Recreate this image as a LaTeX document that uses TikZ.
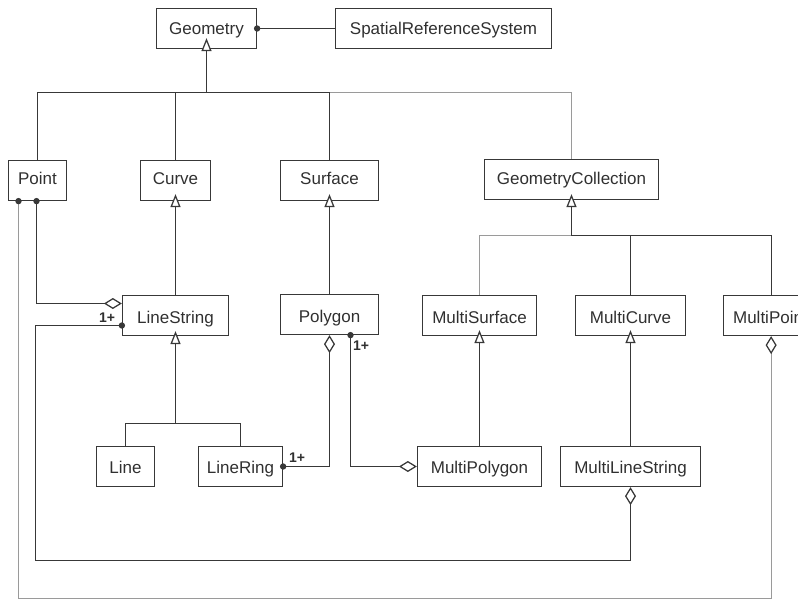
\documentclass[tikz,border=0pt]{standalone}
\usepackage{fontspec}
\setmainfont{Liberation Sans}
\usetikzlibrary{arrows.meta}
\definecolor{lc}{HTML}{383838}
\definecolor{gc}{HTML}{9A9A9A}
\definecolor{tc}{HTML}{303030}
\begin{document}
\begin{tikzpicture}[x=1pt,y=-1pt,
  box/.style={draw=lc, line width=1.25pt, rectangle, inner sep=0pt, minimum height=40pt, text=tc, font=\fontsize{17}{19}\selectfont, text depth=3pt, text height=15pt},
  rowa/.style={text height=12pt},
  rowb/.style={text height=18pt},
  rowc/.style={text height=17pt},
  ln/.style={draw=lc, line width=1.25pt},
  gln/.style={draw=gc, line width=1.25pt},
  gen/.style={-{Triangle[open, fill=white, length=13pt, width=10pt]}},
  agg/.style={-{Diamond[open, fill=white, length=18pt, width=11pt, color=lc]}},
  mult/.style={font=\bfseries\fontsize{14}{15}\selectfont, text=tc, inner sep=0pt},
  dot/.style={fill=lc}
]
\useasboundingbox (0,0) rectangle (798,599);
\clip (0,0) rectangle (798,599);

% classes
\node[box, minimum width=100pt] (geom) at (206.5,28.5) {Geometry};
\node[box, minimum width=216pt] (srs) at (443.5,28.5) {SpatialReferenceSystem};
\node[box, rowa, minimum width=58pt] (point) at (37.5,180.5) {Point};
\node[box, rowa, minimum width=70pt] (curve) at (175.5,180.5) {Curve};
\node[box, rowa, minimum width=98pt] (surface) at (329.5,180.5) {Surface};
\node[box, rowa, minimum width=174pt] (gc) at (571.5,179.5) {GeometryCollection};
\node[box, rowb, minimum width=106pt] (ls) at (175.5,315.5) {LineString};
\node[box, rowb, minimum width=98pt] (poly) at (329.5,314.5) {Polygon};
\node[box, rowb, minimum width=114pt] (ms) at (479.5,315.5) {MultiSurface};
\node[box, rowb, minimum width=110pt] (mc) at (630.5,315.5) {MultiCurve};
\node[box, rowb, anchor=west, text width=100pt, inner xsep=10pt, align=left] (mp) at (722.5,315.5) {MultiPoint};
\node[box, rowc, minimum width=58pt] (line) at (125.5,466.5) {Line};
\node[box, rowc, minimum width=84pt] (lr) at (240.5,466.5) {LineRing};
\node[box, rowc, minimum width=124pt] (mpoly) at (479.5,466.5) {MultiPolygon};
\node[box, rowc, minimum width=140pt] (mls) at (630.5,466.5) {MultiLineString};

% bus points
\coordinate (gbus) at (206.5,92.5);
\coordinate (gcbus) at (571.5,235.5);
\coordinate (lsbus) at (175.5,423.5);
\coordinate (pbot) at (18.5,598.2);
\coordinate (mlsbot) at (35.5,560.5);

% association Geometry - SRS
\draw[ln] (geom.east) -- (srs.west);
\fill[dot] (geom.east) circle (3.2pt);

% generalization to Geometry
\draw[gln] (gc.north) |- (gbus);
\draw[ln] (point.north) |- (gbus);
\draw[ln] (curve.north) |- (gbus);
\draw[ln] (surface.north) |- (gbus);
\draw[ln,gen] (gbus) -- ([yshift=11pt]geom.south);

% generalization to GeometryCollection
\draw[gln] (ms.north) |- (gcbus);
\draw[ln] (mc.north) |- (gcbus);
\draw[ln] ([xshift=-12pt]mp.north) |- (gcbus);
\draw[ln,gen] (gcbus) -- ([yshift=6pt]gc.south);

% generalization to LineString
\draw[ln] (line.north) |- (lsbus);
\draw[ln] (lr.north) |- (lsbus);
\draw[ln,gen] (lsbus) -- ([yshift=5pt]ls.south);

% direct generalizations
\draw[ln,gen] (ls.north) -- ([yshift=7pt]curve.south);
\draw[ln,gen] (poly.north) -- ([yshift=7pt]surface.south);
\draw[ln,gen] (mpoly.north) -- ([yshift=6pt]ms.south);
\draw[ln,gen] (mls.north) -- ([yshift=6pt]mc.south);

% aggregations
\draw[gln,agg] ([xshift=-19pt]point.south) -- (pbot) -| ([xshift=-12pt]mp.south);
\fill[dot] ([xshift=-19pt]point.south) circle (3.2pt);

\draw[ln,agg] ([xshift=-1pt]point.south) |- ([yshift=12pt]ls.west);
\fill[dot] ([xshift=-1pt]point.south) circle (3.2pt);

\draw[ln,agg] ([yshift=-10pt]ls.west) -| (mlsbot) -| (mls.south);
\fill[dot] ([yshift=-10pt]ls.west) circle (3.2pt);
\node[mult] (m1) at (107,317.5) {1+};

\draw[ln,agg] (lr.east) -| (poly.south);
\fill[dot] (lr.east) circle (3.2pt);
\node[mult] (m2) at (297,458) {1+};

\draw[ln,agg] ([xshift=21pt]poly.south) |- (mpoly.west);
\fill[dot] ([xshift=21pt]poly.south) circle (3.2pt);
\node[mult] (m3) at (361,346) {1+};
\end{tikzpicture}
\end{document}
